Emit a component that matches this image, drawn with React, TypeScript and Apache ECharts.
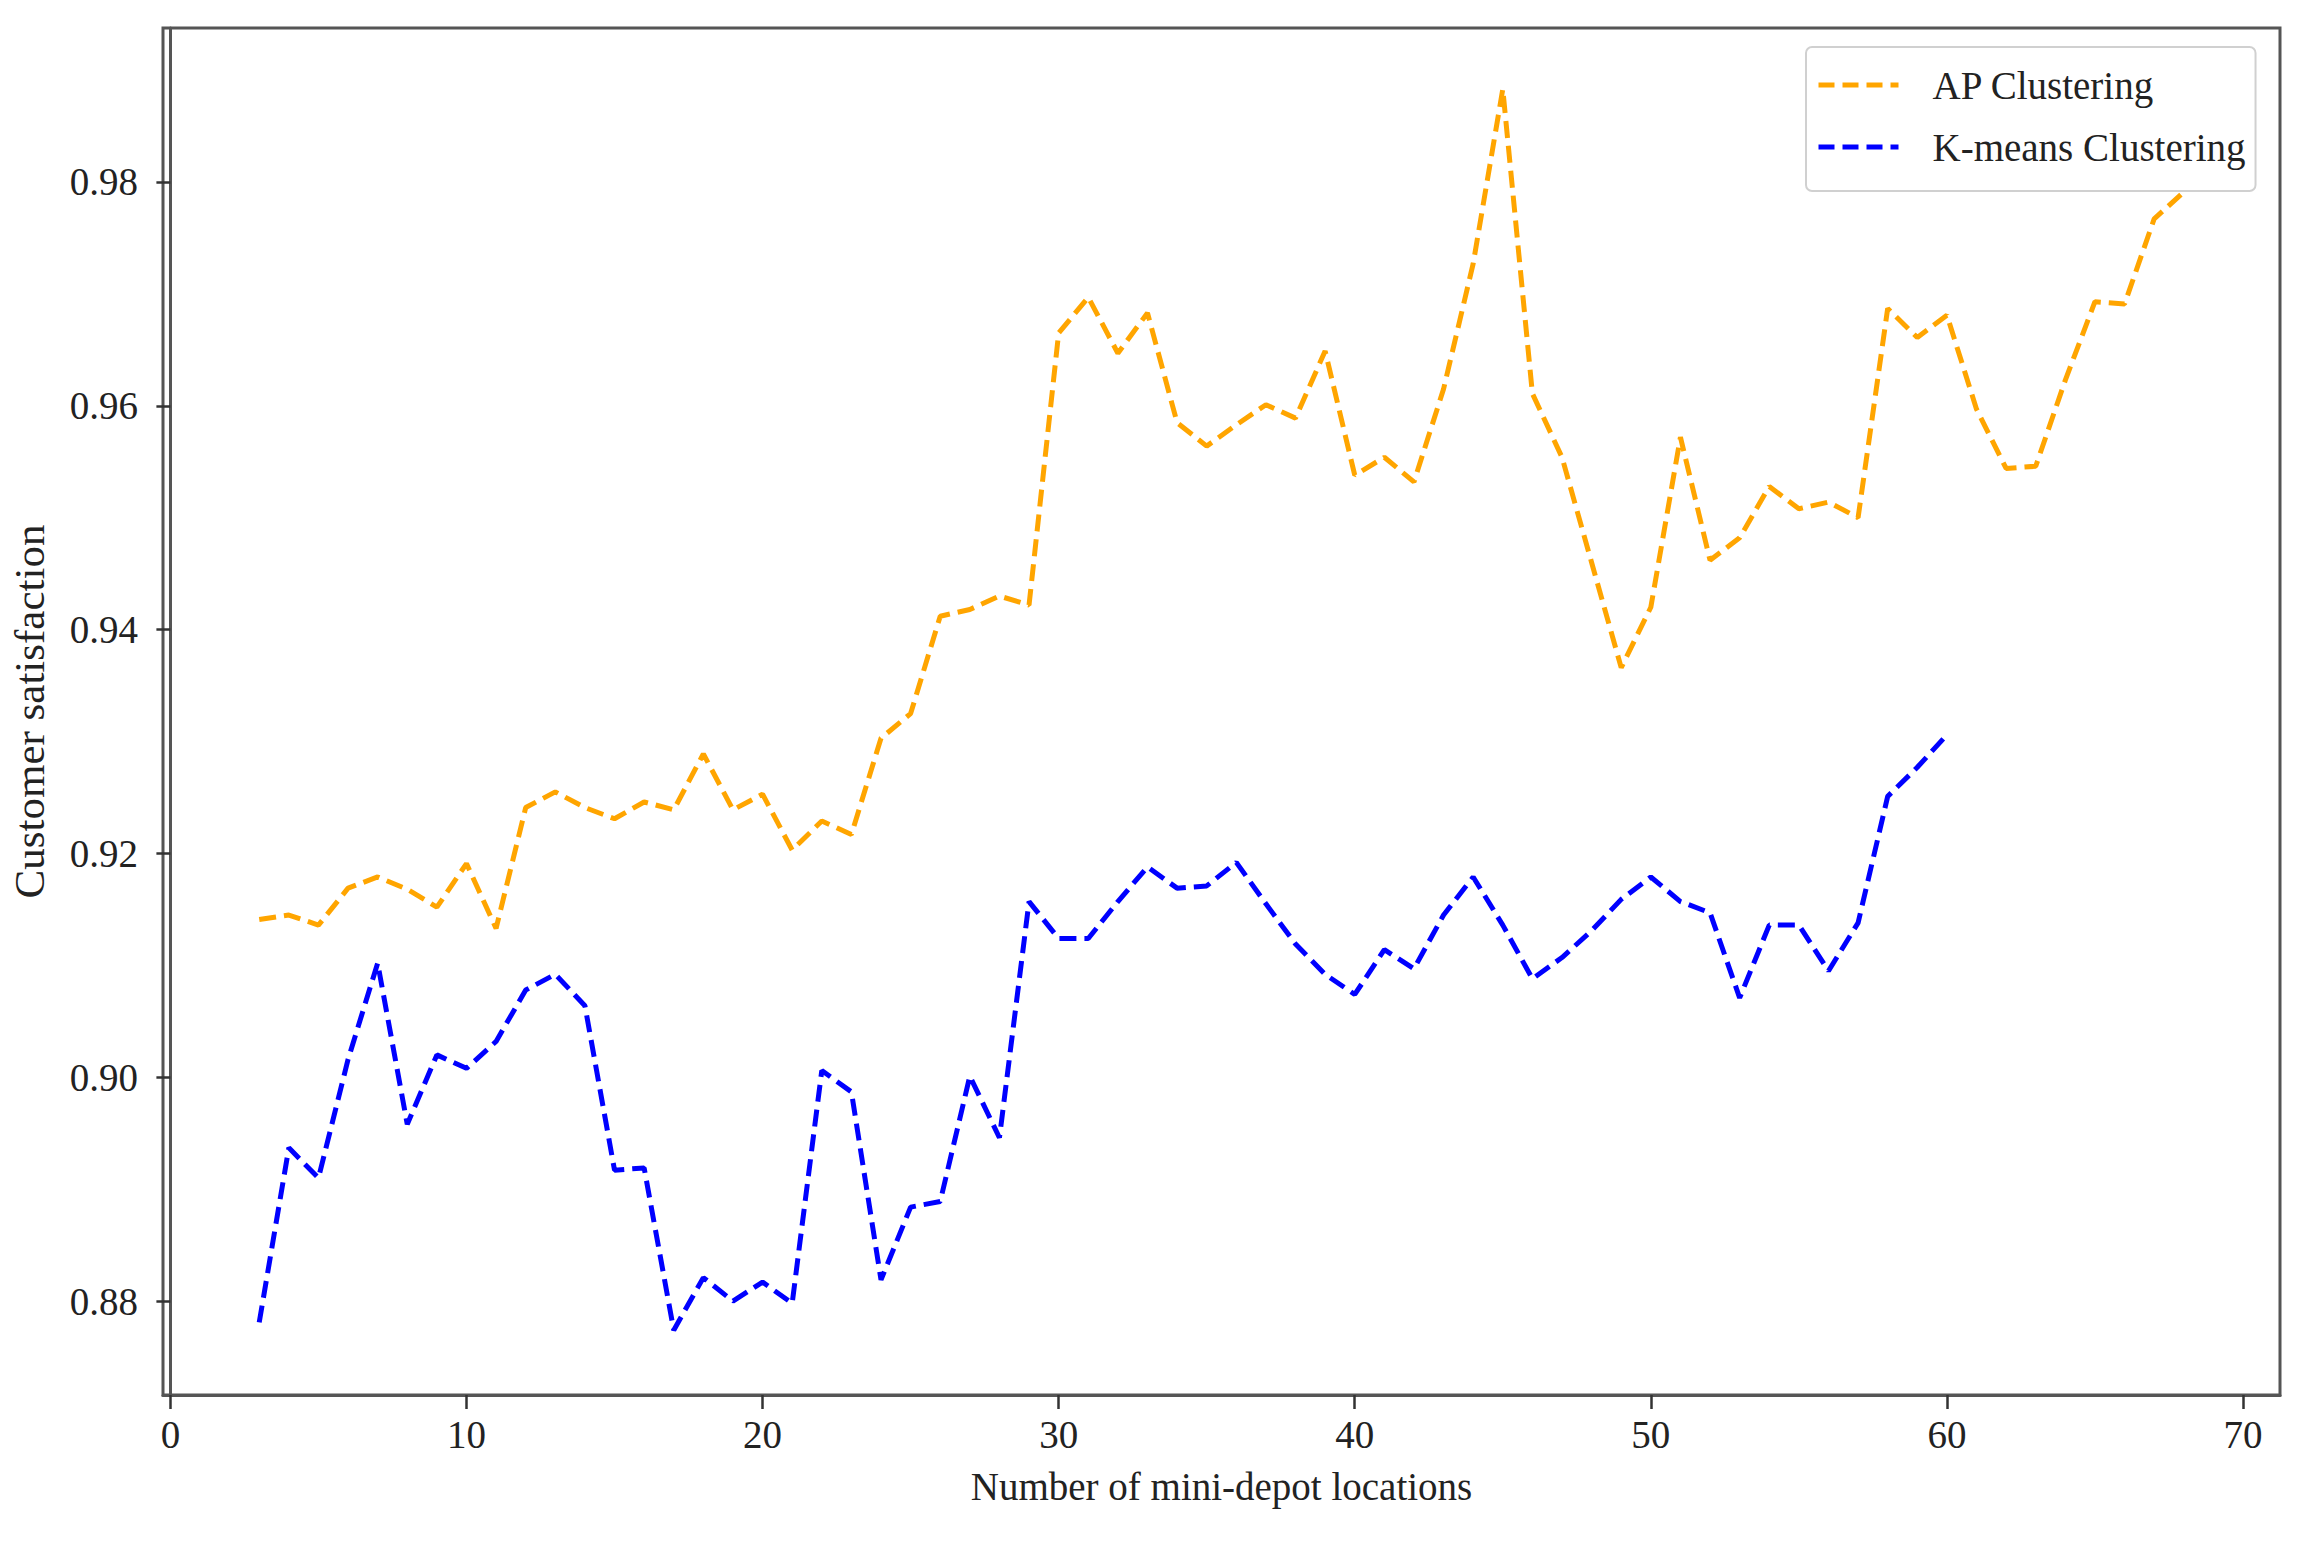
import React, { useEffect, useRef } from "react";
import * as echarts from "echarts";

const apDepots = [3, 4, 5, 6, 7, 8, 9, 10, 11, 12, 13, 14, 15, 16, 17, 18, 19, 20, 21, 22, 23, 24, 25, 26, 27, 28, 29, 30, 31, 32, 33, 34, 35, 36, 37, 38, 39, 40, 41, 42, 43, 44, 45, 46, 47, 48, 49, 50, 51, 52, 53, 54, 55, 56, 57, 58, 59, 60, 61, 62, 63, 64, 65, 66, 67, 68];
const apValues = [0.9141, 0.9145, 0.9136, 0.9169, 0.9179, 0.9168, 0.9152, 0.9191, 0.9133, 0.9241, 0.9255, 0.9241, 0.9231, 0.9246, 0.9239, 0.9289, 0.9239, 0.9253, 0.9203, 0.9229, 0.9217, 0.9303, 0.9325, 0.9412, 0.9418, 0.943, 0.9422, 0.9665, 0.9697, 0.9647, 0.9683, 0.9585, 0.9564, 0.9583, 0.9601, 0.9589, 0.9649, 0.9538, 0.9554, 0.9532, 0.9615, 0.9727, 0.9883, 0.9611, 0.9554, 0.946, 0.9366, 0.942, 0.9572, 0.9462, 0.9482, 0.9528, 0.9508, 0.9514, 0.95, 0.9687, 0.9661, 0.9681, 0.9597, 0.9544, 0.9546, 0.9623, 0.9693, 0.9691, 0.9767, 0.9791];

const kmDepots = [3, 4, 5, 6, 7, 8, 9, 10, 11, 12, 13, 14, 15, 16, 17, 18, 19, 20, 21, 22, 23, 24, 25, 26, 27, 28, 29, 30, 31, 32, 33, 34, 35, 36, 37, 38, 39, 40, 41, 42, 43, 44, 45, 46, 47, 48, 49, 50, 51, 52, 53, 54, 55, 56, 57, 58, 59, 60];
const kmValues = [0.8781, 0.8937, 0.891, 0.9016, 0.9102, 0.8958, 0.902, 0.9008, 0.9032, 0.9078, 0.9092, 0.9064, 0.8917, 0.8919, 0.8774, 0.8821, 0.88, 0.8817, 0.8798, 0.9006, 0.8987, 0.8819, 0.8884, 0.8889, 0.9001, 0.8946, 0.9157, 0.9124, 0.9124, 0.9157, 0.9188, 0.9169, 0.9171, 0.9192, 0.9155, 0.9119, 0.9092, 0.9074, 0.9114, 0.9097, 0.9145, 0.9179, 0.9136, 0.9088, 0.9107, 0.9131, 0.9159, 0.9179, 0.9157, 0.9147, 0.9071, 0.9136, 0.9136, 0.9095, 0.9138, 0.9251, 0.9277, 0.9306];

const xTicks = [0, 10, 20, 30, 40, 50, 60, 70];
const yTicks = [0.88, 0.9, 0.92, 0.94, 0.96, 0.98];

const seriesNames = ["AP Clustering", "K-means Clustering"];
const FONT = "'Liberation Serif', 'DejaVu Serif', serif";

export default function App() {
  const ref = useRef<HTMLDivElement>(null);
  useEffect(() => {
    if (!ref.current) return;
    const chart = echarts.init(ref.current, undefined, { renderer: "svg" });
    const pair = (xs: number[], ys: number[]) => xs.map((x, i) => [x, ys[i]]);
    chart.setOption({
      animation: false,
      backgroundColor: "#ffffff",
      grid: {
        left: 162,
        right: 27,
        top: 28,
        bottom: 146,
        show: true,
        borderColor: "#555555",
        borderWidth: 3,
        containLabel: false,
      },
      legend: {
        orient: "vertical",
        left: 1806,
        top: 47,
        data: seriesNames,
        itemWidth: 80,
        itemHeight: 20,
        itemGap: 22,
        padding: [18, 10, 24, 10],
        borderColor: "#d0d0d0",
        borderWidth: 2,
        borderRadius: 6,
        backgroundColor: "#ffffff",
        itemStyle: { opacity: 0 },
        lineStyle: { width: 5, type: [16, 8] },
        textStyle: {
          fontFamily: FONT,
          fontSize: 39,
          color: "#222",
          lineHeight: 40,
          padding: [0, 0, 0, 29],
        },
      },
      xAxis: {
        type: "value",
        min: -0.25,
        max: 71.25,
        name: "Number of mini-depot locations",
        nameLocation: "middle",
        nameGap: 72,
        nameTextStyle: { fontFamily: FONT, fontSize: 39, color: "#222" },
        axisLine: { show: true, lineStyle: { color: "#555555", width: 3 } },
        axisTick: {
          show: true,
          length: 14,
          customValues: xTicks,
          lineStyle: { color: "#333", width: 2.5 },
        },
        axisLabel: {
          customValues: xTicks,
          fontFamily: FONT,
          fontSize: 39,
          color: "#222",
          margin: 20,
          formatter: (v: number) => String(v),
        },
        splitLine: { show: false },
      },
      yAxis: {
        type: "value",
        min: 0.87161,
        max: 0.99376,
        name: "Customer satisfaction",
        nameLocation: "middle",
        nameGap: 112,
        nameRotate: 90,
        nameTextStyle: { fontFamily: FONT, fontSize: 43, color: "#222" },
        axisLine: { show: true, lineStyle: { color: "#555555", width: 3 } },
        axisTick: {
          show: true,
          length: 14,
          customValues: yTicks,
          lineStyle: { color: "#333", width: 2.5 },
        },
        axisLabel: {
          customValues: yTicks,
          fontFamily: FONT,
          fontSize: 39,
          color: "#222",
          margin: 25,
          formatter: (v: number) => v.toFixed(2),
        },
        splitLine: { show: false },
      },
      series: [
        {
          name: seriesNames[0],
          type: "line",
          data: pair(apDepots, apValues),
          symbol: "none",
          color: "#FFA500",
          lineStyle: { color: "#FFA500", width: 5, type: [17, 8] },
        },
        {
          name: seriesNames[1],
          type: "line",
          data: pair(kmDepots, kmValues),
          symbol: "none",
          color: "#0000FF",
          lineStyle: { color: "#0000FF", width: 5, type: [17, 8] },
        },
      ],
    });
    return () => chart.dispose();
  }, []);
  return (
    <div
      ref={ref}
      style={{ position: "fixed", left: 0, top: 0, width: 2307, height: 1541, background: "#fff" }}
    />
  );
}
